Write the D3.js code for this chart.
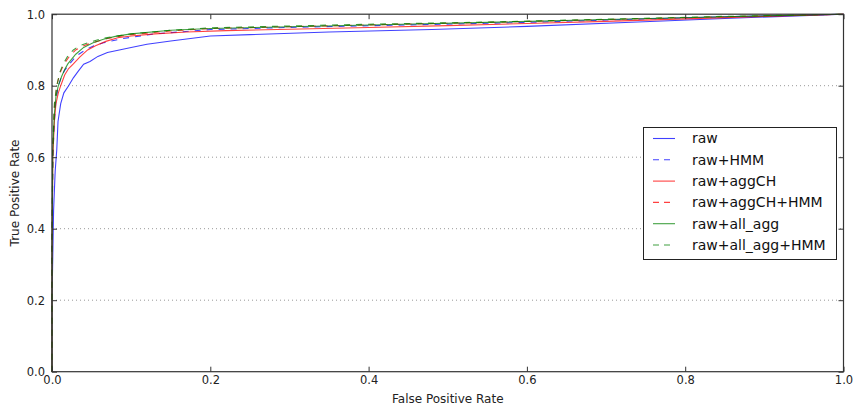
<!DOCTYPE html>
<html><head><meta charset="utf-8">
<script src="https://cdn.jsdelivr.net/npm/d3@7/dist/d3.min.js"></script>
<style>body{margin:0;background:#fff}svg{display:block;font-family:"DejaVu Sans",sans-serif}</style>
</head><body><svg id="c" width="853" height="407"></svg>
<script>
const seriesNames = ["raw","raw+HMM","raw+aggCH","raw+aggCH+HMM","raw+all_agg","raw+all_agg+HMM"];
const seriesColors = ["#0000ff","#0000ff","#ff0000","#ff0000","#008000","#008000"];
const seriesDashed = [false,true,false,true,false,true];

const fprRaw = [0,0,0.002,0.004,0.006,0.0076,0.011,0.015,0.021,0.027,0.033,0.04,0.048,0.058,0.07,0.085,0.1,0.12,0.15,0.2,0.25,0.35,0.48,0.6,0.74,0.85,1.0];
const tprRaw = [0,0.2,0.45,0.56,0.62,0.7,0.75,0.78,0.8,0.822,0.84,0.86,0.868,0.882,0.893,0.9,0.907,0.916,0.925,0.939,0.943,0.95,0.957,0.966,0.978,0.988,1.0];

const fprRawHMM = [0,0,0.001,0.003,0.005,0.008,0.012,0.016,0.022,0.03,0.042,0.053,0.065,0.09,0.13,0.2,0.3,0.45,0.6,0.72,0.85,1.0];
const tprRawHMM = [0,0.3,0.6,0.7,0.76,0.8,0.825,0.843,0.86,0.882,0.9,0.912,0.92,0.932,0.945,0.957,0.963,0.97,0.977,0.985,0.993,1.0];

const fprAggCH = [0,0,0.001,0.003,0.005,0.008,0.011,0.016,0.021,0.027,0.035,0.045,0.055,0.068,0.083,0.1,0.13,0.17,0.22,0.3,0.4,0.5,0.6,0.7,0.8,0.9,1.0];
const tprAggCH = [0,0.3,0.6,0.7,0.75,0.78,0.8,0.83,0.848,0.861,0.88,0.9,0.912,0.924,0.934,0.939,0.945,0.95,0.954,0.958,0.963,0.968,0.974,0.98,0.987,0.994,1.0];

const fprAggCHHMM = [0,0,0.001,0.003,0.006,0.01,0.015,0.022,0.03,0.04,0.048,0.06,0.07,0.085,0.1,0.15,0.2,0.3,0.4,0.55,0.7,0.85,1.0];
const tprAggCHHMM = [0,0.35,0.62,0.74,0.8,0.835,0.86,0.882,0.9,0.912,0.918,0.926,0.932,0.938,0.943,0.953,0.96,0.965,0.97,0.977,0.985,0.993,1.0];

const fprAllAgg = [0,0,0.001,0.003,0.005,0.008,0.012,0.016,0.02,0.03,0.04,0.052,0.065,0.08,0.1,0.15,0.2,0.3,0.4,0.55,0.7,0.85,1.0];
const tprAllAgg = [0,0.35,0.62,0.72,0.77,0.8,0.825,0.845,0.861,0.888,0.907,0.92,0.93,0.938,0.945,0.955,0.96,0.965,0.97,0.977,0.985,0.993,1.0];

const fprAllAggHMM = [0,0,0.001,0.003,0.006,0.01,0.014,0.02,0.027,0.035,0.045,0.057,0.07,0.085,0.1,0.15,0.2,0.3,0.4,0.55,0.7,0.85,1.0];
const tprAllAggHMM = [0,0.35,0.63,0.75,0.8,0.838,0.86,0.883,0.9,0.912,0.92,0.928,0.935,0.94,0.945,0.955,0.962,0.967,0.972,0.978,0.986,0.994,1.0];

const xTicks = [0,0.2,0.4,0.6,0.8,1.0];
const yTicks = [0,0.2,0.4,0.6,0.8,1.0];
const yGrid = [0.2,0.4,0.6,0.8];

const fprs = [fprRaw,fprRawHMM,fprAggCH,fprAggCHHMM,fprAllAgg,fprAllAggHMM];
const tprs = [tprRaw,tprRawHMM,tprAggCH,tprAggCHHMM,tprAllAgg,tprAllAggHMM];

const svg = d3.select("#c");
const L=52, R=843.5, T=14.2, B=371.7;
const x = d3.scaleLinear().domain([0,1]).range([L,R]);
const y = d3.scaleLinear().domain([0,1]).range([B,T]);

// grid
svg.append("g").selectAll("line").data(yGrid).join("line")
  .attr("x1",L).attr("x2",R).attr("y1",d=>y(d)).attr("y2",d=>y(d))
  .attr("stroke","#999").attr("stroke-width",1).attr("stroke-dasharray","1,3");

// curves
const line = d3.line().x(d=>x(d[0])).y(d=>y(d[1]));
seriesNames.forEach((n,i)=>{
  const pts = fprs[i].map((f,j)=>[f,tprs[i][j]]);
  svg.append("path").datum(pts).attr("d",line).attr("fill","none")
    .attr("stroke",seriesColors[i]).attr("stroke-opacity",0.75).attr("stroke-width",1.1)
    .attr("stroke-dasharray",seriesDashed[i]?"6,6":null);
});

// axes
const fs = "11.5px";
const ax = d3.axisBottom(x).tickValues(xTicks).tickFormat(d3.format(".1f")).tickSizeInner(-5).tickSizeOuter(0).tickPadding(6);
const gx = svg.append("g").attr("transform",`translate(0,${B})`).call(ax);
const ay = d3.axisLeft(y).tickValues(yTicks).tickFormat(d3.format(".1f")).tickSizeInner(-5).tickSizeOuter(0).tickPadding(7);
const gy = svg.append("g").attr("transform",`translate(${L},0)`).call(ay);
const axt = d3.axisTop(x).tickValues(xTicks).tickFormat("").tickSizeInner(-5).tickSizeOuter(0);
const gt = svg.append("g").attr("transform",`translate(0,${T})`).call(axt);
const ayr = d3.axisRight(y).tickValues(yTicks).tickFormat("").tickSizeInner(-5).tickSizeOuter(0);
const gr = svg.append("g").attr("transform",`translate(${R},0)`).call(ayr);
[gx,gy,gt,gr].forEach(g=>{
  g.select(".domain").remove();
  g.selectAll("line").attr("stroke","#333");
  g.selectAll("text").attr("font-size",fs).attr("fill","#222").attr("font-family","DejaVu Sans");
});
gx.selectAll("text").attr("dy","0.55em");
gy.selectAll("text").attr("dy","0.35em");

svg.append("rect").attr("x",L).attr("y",T).attr("width",R-L).attr("height",B-T)
  .attr("fill","none").attr("stroke","#333").attr("stroke-width",1.2);

// labels
svg.append("text").attr("x",(L+R)/2).attr("y",403).attr("text-anchor","middle")
  .attr("font-size","12px").attr("fill","#222").text("False Positive Rate");
svg.append("text").attr("transform",`translate(19,${(T+B)/2}) rotate(-90)`).attr("text-anchor","middle")
  .attr("font-size","12px").attr("fill","#222").text("True Positive Rate");

// legend
const lg = svg.append("g");
lg.append("rect").attr("x",643.5).attr("y",127.5).attr("width",193).attr("height",132)
  .attr("fill","#fff").attr("stroke","#222").attr("stroke-width",1);
seriesNames.forEach((n,i)=>{
  const yy = 138.5 + i*21.3;
  lg.append("line").attr("x1",653).attr("x2",675).attr("y1",yy).attr("y2",yy)
    .attr("stroke",seriesColors[i]).attr("stroke-opacity",0.75).attr("stroke-width",1.1)
    .attr("stroke-dasharray",seriesDashed[i]?"6,5":null);
  lg.append("text").attr("x",692).attr("y",yy).attr("dy","0.35em").attr("font-size","14px")
    .attr("fill","#111").text(n);
});
</script></body></html>
